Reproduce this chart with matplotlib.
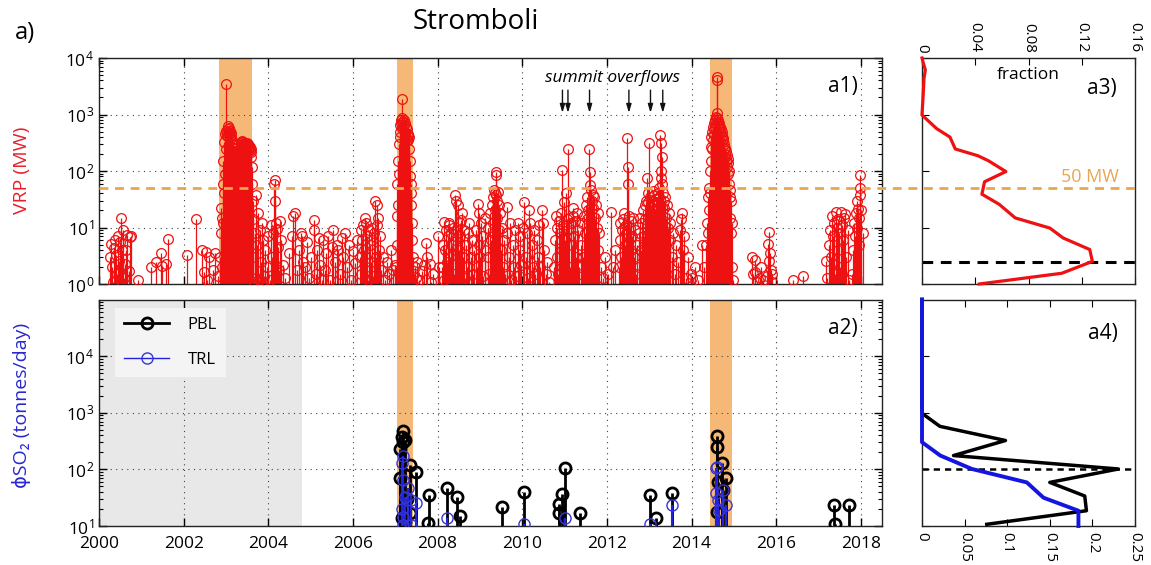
import numpy as np
import matplotlib
matplotlib.use("Agg")
import matplotlib.pyplot as plt
from matplotlib.lines import Line2D
from matplotlib.legend_handler import HandlerLine2D
import matplotlib.transforms as mtransforms
from matplotlib.ticker import LogLocator, NullLocator, NullFormatter

plt.rcParams['font.family'] = ['Open Sans', 'DejaVu Sans']
plt.rcParams['mathtext.fontset'] = 'custom'
plt.rcParams['mathtext.rm'] = 'Open Sans'
plt.rcParams['mathtext.it'] = 'Open Sans:italic'

# ---------------- DATA ----------------
# VRP (MW) stems, grouped by episode (decimal year, MW)
vrp_a_date = [2000.26, 2000.28, 2000.30, 2000.32, 2000.35, 2000.38, 2000.40, 2000.42, 2000.44, 2000.47,
              2000.50, 2000.52, 2000.54, 2000.56, 2000.58, 2000.61, 2000.63, 2000.66, 2000.70, 2000.73,
              2000.76, 2000.91]
vrp_a_mw = [3.0, 5.2, 2.0, 1.1, 4.3, 6.0, 3.2, 1.5, 7.0, 2.6, 5.5, 14.5, 4.0, 9.0, 1.3, 2.3, 4.0, 7.5, 1.7, 6.8,
            7.0, 1.2]

vrp_b_date = [2001.22, 2001.34, 2001.46, 2001.50, 2001.58, 2001.64, 2002.08, 2002.30, 2002.44, 2002.47,
              2002.52, 2002.56, 2002.60, 2002.70, 2002.75, 2002.80]
vrp_b_mw = [2.0, 2.5, 3.5, 2.1, 2.3, 6.3, 3.3, 14.4, 4.0, 1.6, 3.7, 1.2, 3.0, 1.8, 3.5, 1.4]

vrp_c_date = [2002.86, 2002.88, 2002.89, 2002.90, 2002.91, 2002.92, 2002.93, 2002.94, 2002.95, 2002.96,
              2002.97, 2002.98, 2002.99, 2003.00, 2003.01, 2003.02, 2003.03, 2003.04, 2003.05, 2003.06,
              2003.07, 2003.08, 2003.09, 2003.10, 2003.11, 2003.12, 2003.13, 2003.14, 2003.15, 2003.16,
              2003.17, 2003.18, 2003.19, 2003.20, 2003.21, 2003.22, 2003.23, 2003.24, 2003.25, 2003.26,
              2003.27, 2003.28, 2003.29, 2003.30, 2003.31, 2003.32, 2003.33, 2003.34, 2003.35, 2003.36,
              2003.37, 2003.38, 2003.39, 2003.40, 2003.41, 2003.42, 2003.43, 2003.44, 2003.45, 2003.46,
              2003.47, 2003.48, 2003.49, 2003.50, 2003.51, 2003.52, 2003.53, 2003.54, 2003.55, 2003.56,
              2003.57, 2003.58, 2003.59, 2003.60, 2003.61, 2003.62, 2003.63]
vrp_c_mw = [3, 22, 8, 15, 2, 60, 12, 150, 40, 320,
            90, 450, 250, 520, 3500, 480, 420, 550, 620, 500,
            580, 450, 520, 400, 480, 380, 430, 300, 350, 260,
            300, 220, 260, 200, 230, 170, 200, 150, 180, 140,
            170, 190, 150, 200, 230, 180, 260, 220, 290, 250,
            320, 280, 340, 300, 330, 260, 310, 270, 300, 240,
            300, 260, 310, 280, 300, 250, 290, 240, 280, 230,
            270, 220, 250, 180, 120, 60, 30]

vrp_d_date = [2003.64, 2003.65, 2003.66, 2003.68, 2003.70, 2003.72, 2003.74, 2003.76, 2003.78, 2003.80,
              2003.82, 2003.84, 2003.86, 2003.88, 2003.90, 2003.93, 2003.96, 2004.00, 2004.03, 2004.06,
              2004.09, 2004.12, 2004.14, 2004.16, 2004.17, 2004.19, 2004.21, 2004.23, 2004.25, 2004.28,
              2004.31, 2004.35, 2004.40, 2004.50, 2004.55, 2004.58, 2004.62]
vrp_d_mw = [14, 3, 1.1, 8, 1.3, 37, 5, 18, 1.2, 9, 2.5, 12, 1.1, 6, 1.4, 4, 2, 7, 1.2, 11,
            3, 8, 60, 68, 30, 12, 9.5, 4.5, 1.8, 13, 6, 2.2, 1.3, 3.5, 7, 16, 18]

vrp_e_date = [2004.67, 2004.72, 2004.77, 2004.79, 2004.83, 2004.87, 2004.92, 2004.97, 2005.02, 2005.07,
              2005.08, 2005.12, 2005.15, 2005.19, 2005.22, 2005.26, 2005.30, 2005.33, 2005.37, 2005.41,
              2005.46, 2005.50, 2005.54, 2005.58, 2005.62, 2005.65, 2005.69, 2005.73, 2005.77, 2005.81,
              2005.85, 2005.90, 2005.95, 2006.01, 2006.06, 2006.10]
vrp_e_mw = [1.8, 4, 8, 7, 2.5, 2, 5.5, 1.3, 3, 13.5, 9, 1.5, 4, 6.5, 2.2, 1.2, 6, 1.8, 3.5, 7,
            1.2, 4.5, 9, 2.5, 5, 4, 1.5, 6.5, 3, 8, 2, 5, 1.2, 3.8, 2.4, 6]

vrp_f_date = [2006.16, 2006.18, 2006.20, 2006.22, 2006.24, 2006.26, 2006.28, 2006.30, 2006.32, 2006.34,
              2006.36, 2006.38, 2006.40, 2006.42, 2006.44, 2006.46, 2006.48, 2006.50, 2006.52, 2006.54,
              2006.56, 2006.58, 2006.60, 2006.62, 2006.64, 2006.66, 2006.70, 2006.75, 2006.80, 2006.85,
              2006.90, 2006.95, 2007.00]
vrp_f_mw = [3, 9, 1.5, 6, 11, 4, 14.5, 2, 12, 7, 1.2, 9, 5, 2.5, 10, 6, 1.4, 8, 30, 3,
            25, 11, 15, 4, 7, 1.8, 3, 1.2, 2.5, 1.5, 4, 1.8, 2.2]

vrp_g_date = [2007.02, 2007.03, 2007.04, 2007.05, 2007.06, 2007.07, 2007.08, 2007.09, 2007.10, 2007.11,
              2007.12, 2007.13, 2007.14, 2007.15, 2007.16, 2007.17, 2007.18, 2007.19, 2007.20, 2007.21,
              2007.22, 2007.23, 2007.24, 2007.25, 2007.26, 2007.27, 2007.28, 2007.29, 2007.30, 2007.31,
              2007.32, 2007.33, 2007.34, 2007.35, 2007.36, 2007.37, 2007.38, 2007.39, 2007.40, 2007.42,
              2007.44, 2007.46]
vrp_g_mw = [2, 16, 5, 60, 25, 150, 300, 90, 500, 650, 400, 800, 700, 570, 1850, 850, 750, 600, 800, 650,
            500, 700, 450, 600, 400, 550, 350, 420, 450, 350, 400, 250, 150, 80, 60, 40, 25, 12, 6, 3,
            1.5, 2]

vrp_h_date = [2007.48, 2007.52, 2007.57, 2007.62, 2007.68, 2007.73, 2007.76, 2007.81, 2007.85, 2007.90,
              2008.01, 2008.04]
vrp_h_mw = [1.3, 2.5, 1.2, 1.7, 2.2, 5.3, 3, 2.3, 1.1, 1.5, 7, 2]

vrp_i_date = [2008.10, 2008.12, 2008.14, 2008.16, 2008.18, 2008.20, 2008.22, 2008.24, 2008.26, 2008.28,
              2008.30, 2008.32, 2008.34, 2008.36, 2008.38, 2008.40, 2008.42, 2008.44, 2008.46, 2008.48,
              2008.50, 2008.52, 2008.54, 2008.56, 2008.58, 2008.60, 2008.62, 2008.64, 2008.67, 2008.70,
              2008.73, 2008.75, 2008.78, 2008.81, 2008.84, 2008.87, 2008.90, 2008.93, 2008.95, 2008.97,
              2008.99, 2009.01, 2009.03, 2009.05, 2009.08, 2009.11, 2009.13]
vrp_i_mw = [2, 5, 1.2, 12.6, 4, 9, 2.5, 7, 11, 12, 3, 8, 5, 10, 1.5, 37, 6, 30, 9, 25,
            4, 12, 7, 13.5, 18, 3, 9, 1.3, 5, 2, 8, 12, 3, 6, 1.5, 4, 9, 2, 26, 5,
            18, 3, 12, 7, 1.4, 15, 4]

vrp_j_date = [2009.18, 2009.20, 2009.22, 2009.24, 2009.26, 2009.28, 2009.30, 2009.32, 2009.33, 2009.34,
              2009.35, 2009.36, 2009.37, 2009.38, 2009.39, 2009.40, 2009.41, 2009.42, 2009.44, 2009.46,
              2009.48, 2009.50, 2009.52, 2009.54, 2009.56]
vrp_j_mw = [3, 10, 1.5, 18, 6, 25, 12, 35, 8, 46, 20, 40, 84, 97, 38, 30, 15, 42, 25, 9, 18, 4, 10, 2, 6]

vrp_k_date = [2009.60, 2009.63, 2009.65, 2009.68, 2009.71, 2009.74, 2009.77, 2009.80, 2009.83, 2009.86,
              2009.89, 2009.92, 2009.95, 2009.98, 2010.02, 2010.05, 2010.08, 2010.11, 2010.14, 2010.17,
              2010.19, 2010.22, 2010.25, 2010.28, 2010.31, 2010.34, 2010.37, 2010.40, 2010.43, 2010.46,
              2010.48, 2010.51, 2010.55, 2010.58, 2010.63]
vrp_k_mw = [1.5, 8, 23, 3, 12, 1.2, 5, 2, 9, 1.4, 12, 4, 7, 2.2, 10, 28, 3, 8, 1.3, 20,
            12, 5, 2, 9, 1.5, 6, 3, 11, 2, 20, 12, 4, 1.5, 2.5, 1.07]

vrp_l_date = [2010.75, 2010.77, 2010.79, 2010.81, 2010.83, 2010.85, 2010.87, 2010.89, 2010.91, 2010.93,
              2010.95, 2010.97, 2010.99, 2011.01, 2011.03, 2011.05, 2011.07, 2011.09, 2011.11, 2011.13,
              2011.15, 2011.17, 2011.19, 2011.21, 2011.23, 2011.25, 2011.27, 2011.29, 2011.31, 2011.34]
vrp_l_mw = [2, 6, 16, 3, 10, 1.5, 13, 8, 18, 4, 105, 11, 28, 6, 40, 14, 250, 9, 15, 2,
            12, 5, 16, 22, 7, 13, 3, 18, 9, 2]

vrp_m_date = [2011.38, 2011.40, 2011.42, 2011.44, 2011.46, 2011.48, 2011.50, 2011.52, 2011.54, 2011.56,
              2011.58, 2011.59, 2011.60, 2011.62, 2011.64, 2011.66, 2011.68, 2011.70, 2011.72, 2011.74,
              2011.76, 2011.78, 2011.80, 2011.82, 2011.85]
vrp_m_mw = [1.5, 5, 12, 3, 16, 8, 25, 14, 35, 20, 250, 97, 57, 46, 30, 38, 22, 35, 15, 25, 10, 18, 4, 8, 2]

vrp_n_date = [2011.90, 2011.96, 2012.02, 2012.09, 2012.14, 2012.20]
vrp_n_mw = [1.3, 3, 1.5, 19, 2, 4]

vrp_o_date = [2012.28, 2012.30, 2012.32, 2012.34, 2012.36, 2012.38, 2012.40, 2012.42, 2012.44, 2012.46,
              2012.48, 2012.49, 2012.50, 2012.52, 2012.54, 2012.56, 2012.58, 2012.60, 2012.62, 2012.64,
              2012.66, 2012.68, 2012.71]
vrp_o_mw = [2, 6, 12, 3, 9, 14, 18, 5, 11, 8, 380, 120, 60, 16, 10, 4, 13, 7, 15, 3, 9, 1.5, 5]

vrp_p_date = [2012.75, 2012.77, 2012.79, 2012.81, 2012.83, 2012.85, 2012.87, 2012.89, 2012.91, 2012.93,
              2012.95, 2012.96, 2012.98, 2013.00, 2013.02, 2013.04, 2013.06, 2013.08, 2013.10, 2013.12,
              2013.14, 2013.16, 2013.18, 2013.20, 2013.22, 2013.24, 2013.26, 2013.27, 2013.28, 2013.29,
              2013.30, 2013.31, 2013.32, 2013.34, 2013.36, 2013.38, 2013.40, 2013.42, 2013.44, 2013.46,
              2013.48, 2013.50, 2013.53, 2013.56]
vrp_p_mw = [2, 8, 15, 4, 12, 20, 7, 25, 14, 30, 74, 28, 40, 310, 35, 22, 30, 45, 25, 38,
            20, 32, 28, 40, 35, 50, 430, 75, 310, 100, 180, 60, 40, 30, 22, 35, 15, 25, 10, 18,
            6, 12, 3, 8]

vrp_q_date = [2013.60, 2013.64, 2013.68, 2013.72, 2013.75, 2013.77, 2013.80, 2013.83, 2013.87, 2013.92,
              2013.98, 2014.02, 2014.08, 2014.15, 2014.24, 2014.30]
vrp_q_mw = [1.5, 5, 2.5, 9, 14, 18, 4, 7, 1.3, 3, 1.5, 1.3, 2, 1.2, 5, 2]

vrp_r_date = [2014.35, 2014.37, 2014.39, 2014.40, 2014.41, 2014.42, 2014.43, 2014.44, 2014.45, 2014.46,
              2014.47, 2014.48, 2014.49, 2014.50, 2014.51, 2014.52, 2014.53, 2014.54, 2014.55, 2014.56,
              2014.57, 2014.58, 2014.59, 2014.60, 2014.605, 2014.61, 2014.62, 2014.63, 2014.64, 2014.65,
              2014.66, 2014.67, 2014.68, 2014.69, 2014.70, 2014.71, 2014.72, 2014.73, 2014.74, 2014.75,
              2014.76, 2014.77, 2014.78, 2014.79, 2014.80, 2014.81, 2014.82, 2014.83, 2014.84, 2014.85,
              2014.86, 2014.87, 2014.88, 2014.89, 2014.90, 2014.91, 2014.92, 2014.93, 2014.94, 2014.95,
              2014.96, 2014.98]
vrp_r_mw = [5, 12, 35, 8, 50, 20, 100, 40, 270, 150, 400, 250, 500, 350, 600, 450, 700, 550, 800, 600,
            900, 700, 1080, 4700, 4000, 850, 700, 800, 600, 700, 550, 600, 500, 550, 450, 500, 400, 420, 380, 350,
            250, 300, 200, 260, 180, 230, 150, 190, 120, 160, 90, 140, 60, 100, 35, 46, 15, 30, 8, 12,
            2, 1.2]

vrp_s_date = [2015.43, 2015.45, 2015.49, 2015.51, 2015.55, 2015.61, 2015.65, 2015.69, 2015.78, 2015.80,
              2015.82, 2015.84, 2015.85, 2015.87, 2015.89, 2015.91]
vrp_s_mw = [3, 1.5, 1.6, 2.7, 1.1, 1.3, 2, 1.2, 1.4, 5.2, 2.6, 8.4, 3.5, 1.8, 1.1, 1.5]

vrp_t_date = [2016.39, 2016.63]
vrp_t_mw = [1.2, 1.4]

vrp_u_date = [2017.17, 2017.21, 2017.24, 2017.27, 2017.29, 2017.32, 2017.34, 2017.37, 2017.39, 2017.41,
              2017.43, 2017.45, 2017.47, 2017.49, 2017.51, 2017.53, 2017.55, 2017.58, 2017.60, 2017.63,
              2017.66, 2017.69, 2017.73]
vrp_u_mw = [2.6, 1.3, 5, 9, 3, 16, 7, 12, 1.5, 19, 10, 4, 14, 8, 2, 19, 11, 6, 15, 17, 3, 9, 1.2]

vrp_v_date = [2017.80, 2017.82, 2017.84, 2017.86, 2017.88, 2017.90, 2017.92, 2017.94, 2017.95, 2017.96,
              2017.97, 2017.975, 2017.97, 2018.00, 2018.05]
vrp_v_mw = [1.5, 4, 12, 7, 18, 30, 10, 21, 5, 15, 37, 51, 85, 20, 8]

# SO2 flux (tonnes/day)
pbl_date = [2007.11, 2007.11, 2007.15, 2007.15, 2007.18, 2007.19, 2007.23, 2007.23, 2007.27, 2007.34,
            2007.34, 2007.50, 2007.78, 2007.80, 2008.23, 2008.47, 2008.52, 2009.53, 2010.04, 2010.87,
            2010.87, 2010.95, 2011.00, 2011.36, 2013.01, 2013.15, 2013.53, 2014.59, 2014.59, 2014.59,
            2014.62, 2014.73, 2014.74, 2014.82, 2017.36, 2017.40, 2017.72]
pbl_flux = [225, 70, 380, 14, 300, 470, 330, 12, 30, 120, 17, 91, 11.5, 35, 47, 33, 15, 22, 40, 24.5,
            17, 36, 105, 17, 35, 14, 38, 390, 250, 18, 60, 130, 43, 70, 23.5, 11, 23.5]

trl_date = [2007.15, 2007.15, 2007.19, 2007.19, 2007.19, 2007.19, 2007.23, 2007.30, 2007.38, 2007.38,
            2007.50, 2008.23, 2010.04, 2011.00, 2013.01, 2013.53, 2014.57, 2014.57, 2014.59, 2014.62,
            2014.66, 2014.74, 2014.82]
trl_flux = [130, 20, 170, 65, 14.6, 10.4, 33, 47, 29, 10.4, 25, 13.7, 10.8, 14, 10.8, 23.5, 105, 39, 112, 29,
            19, 43, 23.5]

# eruptive periods and no-data period
eruption_start = [2002.83, 2007.04, 2014.43]
eruption_end = [2003.61, 2007.41, 2014.95]
no_so2_start, no_so2_end = 2000.0, 2004.79

overflow_dates = [2010.95, 2011.08, 2011.59, 2012.52, 2013.03, 2013.32]

# distributions
vrp_hist_log10 = [0.0, 0.19, 0.40, 0.61, 0.815, 0.99, 1.17, 1.41, 1.59, 1.81, 1.99, 2.18, 2.27, 2.39,
                  2.60, 2.75, 2.99, 3.40, 3.64, 3.79, 3.91, 4.0]
vrp_hist_frac = [0.043, 0.105, 0.128, 0.126, 0.106, 0.096, 0.070, 0.058, 0.045, 0.047, 0.063, 0.050,
                 0.042, 0.025, 0.021, 0.011, 0.0, 0.001, 0.0015, 0.0025, 0.001, 0.0]
pbl_hist_log10 = [1.03, 1.27, 1.53, 1.77, 2.007, 2.244, 2.51, 2.76, 2.99, 5.0]
pbl_hist_frac = [0.076, 0.193, 0.191, 0.150, 0.2305, 0.037, 0.098, 0.021, 0.0, 0.0]
trl_hist_log10 = [1.0, 1.27, 1.50, 1.77, 2.007, 2.244, 2.48, 5.0]
trl_hist_frac = [0.1836, 0.1836, 0.1426, 0.123, 0.0586, 0.0215, 0.0, 0.0]

vrp_threshold = 50       # MW
vrp_mode = 2.5           # MW
so2_mode = 100           # t/day

# ---------------- STYLE ----------------
RED = '#ee1111'
BLUE = '#2222dd'
ORANGE_SPAN = '#f6b877'
ORANGE_LINE = '#e9a650'
W, H = 1151, 565

vrp_date = (vrp_a_date + vrp_b_date + vrp_c_date + vrp_d_date + vrp_e_date + vrp_f_date + vrp_g_date +
            vrp_h_date + vrp_i_date + vrp_j_date + vrp_k_date + vrp_l_date + vrp_m_date + vrp_n_date +
            vrp_o_date + vrp_p_date + vrp_q_date + vrp_r_date + vrp_s_date + vrp_t_date + vrp_u_date +
            vrp_v_date)
vrp_mw = (vrp_a_mw + vrp_b_mw + vrp_c_mw + vrp_d_mw + vrp_e_mw + vrp_f_mw + vrp_g_mw +
          vrp_h_mw + vrp_i_mw + vrp_j_mw + vrp_k_mw + vrp_l_mw + vrp_m_mw + vrp_n_mw +
          vrp_o_mw + vrp_p_mw + vrp_q_mw + vrp_r_mw + vrp_s_mw + vrp_t_mw + vrp_u_mw +
          vrp_v_mw)
assert len(vrp_date) == len(vrp_mw)


class EndMarkerHandler(HandlerLine2D):
    def get_xdata(self, legend, xdescent, ydescent, width, height, fontsize):
        xdata = np.array([-xdescent, -xdescent + width])
        return xdata, np.array([-xdescent + width])


fig = plt.figure(figsize=(W / 100, H / 100), dpi=100)
ax1 = fig.add_axes([99 / W, 1 - 284 / H, 783 / W, 226 / H])
ax2 = fig.add_axes([99 / W, 1 - 526 / H, 783 / W, 226 / H])
ax3 = fig.add_axes([922 / W, 1 - 284 / H, 213 / W, 226 / H])
ax4 = fig.add_axes([922 / W, 1 - 526 / H, 213 / W, 226 / H])

grid_kw = dict(color='#444444', lw=0.8, ls=(0, (1, 4)))

for ax in (ax1, ax2):
    ax.set_yscale('log')
    ax.set_xlim(2000, 2018.5)
    ax.set_xticks(range(2000, 2019, 2))
    ax.yaxis.set_minor_locator(LogLocator(base=10, subs=np.arange(2, 10)))
    ax.yaxis.set_minor_formatter(NullFormatter())
    ax.tick_params(which='both', direction='in', top=True, right=True, labelsize=12.5)
    ax.tick_params(which='major', length=6, width=1)
    ax.tick_params(which='minor', length=3, width=0.8)
    ax.tick_params(axis='x', pad=7)
    ax.set_axisbelow(True)
    ax.grid(True, which='major', **grid_kw)
    for s in ax.spines.values():
        s.set_linewidth(1.0)
        s.set_color('#222222')

for a, b in zip(eruption_start, eruption_end):
    ax1.axvspan(a, b, color=ORANGE_SPAN, lw=0, zorder=0.2)
    if a > no_so2_end:
        ax2.axvspan(a, b, color=ORANGE_SPAN, lw=0, zorder=0.2)

# ---- a1: VRP ----
ax1.set_ylim(1, 1e4)
ax1.tick_params(labelbottom=False)
ax1.vlines(vrp_date, 1, vrp_mw, color=RED, lw=0.9, zorder=2)
ax1.plot(vrp_date, vrp_mw, 'o', ms=7, mfc='none', mec=RED, mew=0.9, zorder=3)
for d in overflow_dates:
    ax1.annotate('', xy=(d, 1070), xytext=(d, 2700),
                 arrowprops=dict(arrowstyle='-|>,head_length=0.5,head_width=0.15',
                                 color='#111111', lw=1.0, shrinkA=0, shrinkB=0))
ax1.text(2012.14, 4400, 'summit overflows', style='italic', fontsize=12.5,
         ha='center', va='center')
ax1.text(0.95, 0.872, 'a1)', transform=ax1.transAxes, fontsize=15, ha='center', va='center')

# ---- a2: SO2 ----
ax2.set_ylim(10, 9.8e4)
ax2.axvspan(no_so2_start, no_so2_end, color='#e8e8e8', lw=0, zorder=0.1)
ax2.vlines(pbl_date, 10, pbl_flux, color='k', lw=2.0, zorder=2)
ax2.plot(pbl_date, pbl_flux, 'o', ms=8, mfc='none', mec='k', mew=2.0, zorder=3)
ax2.vlines(trl_date, 10, trl_flux, color=BLUE, lw=1.5, zorder=4)
ax2.plot(trl_date, trl_flux, 'o', ms=8, mfc='none', mec='#3535d5', mew=1.0, zorder=5)
ax2.text(0.95, 0.876, 'a2)', transform=ax2.transAxes, fontsize=15, ha='center', va='center')

h_pbl = Line2D([], [], color='k', lw=2, marker='o', mfc='none', mec='k', ms=8, mew=2)
h_trl = Line2D([], [], color=BLUE, lw=1, marker='o', mfc='none', mec='#3535d5', ms=8, mew=1)
leg = ax2.legend([h_pbl, h_trl], ['PBL', 'TRL'], loc='upper left',
                 bbox_to_anchor=((115 - 99) / 783, (526 - 308) / 226), borderaxespad=0,
                 frameon=True, fancybox=False, facecolor='#f4f4f4', edgecolor='none', framealpha=1,
                 handler_map={Line2D: EndMarkerHandler()}, handlelength=2.7, handletextpad=1.1,
                 fontsize=12, labelspacing=1.15, borderpad=0.55)

# ---- a3: VRP distribution ----
ax3.set_yscale('log')
ax3.set_ylim(1, 1e4)
ax3.set_xlim(0, 0.16)
ax3.plot(vrp_hist_frac, [10 ** v for v in vrp_hist_log10], color=RED, lw=2.3, clip_on=False, zorder=3)
ax3.axhline(vrp_mode, color='k', lw=2.2, ls=(0, (3.5, 2.5)), zorder=2)
ax3.xaxis.tick_top()
ax3.set_xticks([0, 0.04, 0.08, 0.12, 0.16])
ax3.set_xticklabels(['0', '0.04', '0.08', '0.12', '0.16'], rotation=-90)
ax3.yaxis.set_major_locator(LogLocator(base=10, numticks=10))
ax3.yaxis.set_minor_locator(NullLocator())
ax3.tick_params(which='both', direction='in', labelleft=False, left=True, right=False,
                top=True, bottom=True, labelsize=11, length=5, pad=4)
ax3.text(0.50, 0.924, 'fraction', transform=ax3.transAxes, fontsize=12.5, ha='center', va='center')
ax3.text(0.845, 0.866, 'a3)', transform=ax3.transAxes, fontsize=15, ha='center', va='center')
ax3.text(0.789, 0.475, '50 MW', transform=ax3.transAxes, fontsize=13, color=ORANGE_LINE,
         ha='center', va='center')

# ---- a4: SO2 distribution ----
ax4.set_yscale('log')
ax4.set_ylim(10, 9.8e4)
ax4.set_xlim(0, 0.25)
ax4.plot(pbl_hist_frac, [10 ** v for v in pbl_hist_log10], color='k', lw=2.5, clip_on=False, zorder=3)
ax4.plot(trl_hist_frac, [10 ** v for v in trl_hist_log10], color='#1515e0', lw=2.8, clip_on=False, zorder=4)
ax4.axhline(so2_mode, color='k', lw=1.8, ls=(0, (2.5, 2)), zorder=2)
ax4.set_xticks([0, 0.05, 0.1, 0.15, 0.2, 0.25])
ax4.set_xticklabels(['0', '0.05', '0.1', '0.15', '0.2', '0.25'], rotation=-90)
ax4.yaxis.set_major_locator(LogLocator(base=10, numticks=10))
ax4.yaxis.set_minor_locator(NullLocator())
ax4.tick_params(which='both', direction='in', labelleft=False, left=True, right=False,
                top=True, bottom=True, labelsize=11, length=5, pad=4)
ax4.text(0.85, 0.853, 'a4)', transform=ax4.transAxes, fontsize=15, ha='center', va='center')

for ax in (ax3, ax4):
    for s in ax.spines.values():
        s.set_linewidth(1.0)
        s.set_color('#222222')

# 50 MW threshold across a1 and a3
blend = mtransforms.blended_transform_factory(fig.transFigure, ax1.transData)
fig.add_artist(Line2D([99 / W, 1135 / W], [vrp_threshold, vrp_threshold], transform=blend,
                      color=ORANGE_LINE, lw=2.0, ls=(0, (3.2, 2.4)), zorder=5))

# titles and labels
fig.text(476 / W, 1 - 22 / H, 'Stromboli', fontsize=20, ha='center', va='center')
fig.text(25 / W, 1 - 33 / H, 'a)', fontsize=17, ha='center', va='center')
fig.text(22 / W, 1 - 170 / H, 'VRP (MW)', rotation=90, color='#e8202a', fontsize=14,
         ha='center', va='center')
fig.text(22 / W, 1 - 405 / H, 'ϕSO₂ (tonnes/day)', rotation=90, color='#2727cf', fontsize=14,
         ha='center', va='center', family=['Open Sans', 'DejaVu Sans'])

fig.savefig('out.png', dpi=100)
